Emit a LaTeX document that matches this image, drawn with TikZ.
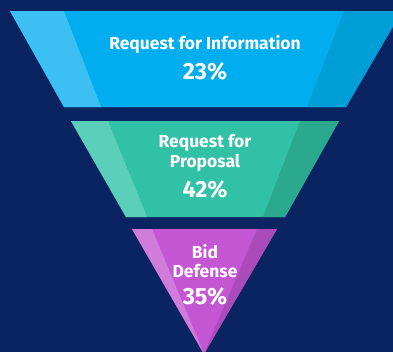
\documentclass[tikz,border=0pt]{standalone}
\usepackage{fontspec}
\setmainfont{Fira Sans}
\definecolor{bgnavy}{HTML}{0A2462}
\definecolor{blueM}{HTML}{00ADEE}
\definecolor{blueL}{HTML}{3CC0F3}
\definecolor{blueD}{HTML}{009ED6}
\definecolor{greenM}{HTML}{31C1A7}
\definecolor{greenL}{HTML}{5CCFBB}
\definecolor{greenD}{HTML}{2AA98F}
\definecolor{purpM}{HTML}{C456D3}
\definecolor{purpL}{HTML}{CF7CDA}
\definecolor{purpD}{HTML}{AA4BB9}
\tikzset{
  title/.style={text=white, font=\bfseries\fontsize{17.5}{20}\selectfont, align=center, inner sep=0pt},
  titleB/.style={title, font=\bfseries\fontsize{17.5}{19}\selectfont},
  pct/.style={text=white, font=\bfseries\fontsize{23.5}{26}\selectfont, inner sep=0pt},
}
\begin{document}
\begin{tikzpicture}[x=1bp,y=-1bp]
\useasboundingbox (0,0) rectangle (393,352);
\fill[bgnavy] (0,0) rectangle (393,352);
\begin{scope}
\clip (0,0) rectangle (393,352);
% level 1
\fill[blueM] (10,11) -- (402,11) -- (346,107) -- (64,107) -- cycle;
\fill[blueL] (10,11) -- (64,11) -- (101,107) -- (64,107) -- cycle;
\fill[blueD] (344,11) -- (402,11) -- (346,107) -- (307,107) -- cycle;
% level 2
\fill[greenM] (71,121) -- (339,121) -- (285,217) -- (126,217) -- cycle;
\fill[greenL] (71,121) -- (108,121) -- (147,217) -- (126,217) -- cycle;
\fill[greenD] (300,121) -- (339,121) -- (285,217) -- (263,217) -- cycle;
% level 3
\fill[purpM] (132,229) -- (277,229) -- (204,354) -- cycle;
\fill[purpL] (132,229) -- (152,229) -- (204,354) -- cycle;
\fill[purpD] (257,229) -- (277,229) -- (204,354) -- cycle;
\end{scope}
\node[title] (t1) at (205,44) {Request for Information};
\node[pct] (p1) at (205,72) {23\%};
\node[title] (t2) at (205,153) {Request for\\Proposal};
\node[pct] (p2) at (205,190) {42\%};
\node[titleB] (t3) at (205,261) {Bid\\Defense};
\node[pct] (p3) at (205,297) {35\%};
\end{tikzpicture}
\end{document}
